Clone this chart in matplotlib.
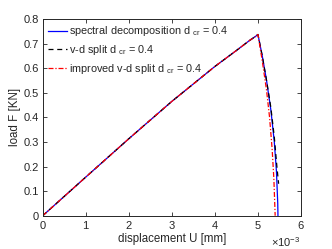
import matplotlib
matplotlib.use("Agg")
import matplotlib.pyplot as plt
from matplotlib.ticker import ScalarFormatter

plt.rcParams['font.family'] = ['Liberation Sans', 'DejaVu Sans']
plt.rcParams['mathtext.fontset'] = 'custom'
plt.rcParams['mathtext.rm'] = 'Liberation Sans'
plt.rcParams['mathtext.it'] = 'Liberation Sans'

# displacement in mm, load in kN
pre_x = [0, 1.0e-3, 2.0e-3, 3.0e-3, 4.0e-3, 4.5e-3, 4.8e-3, 4.95e-3, 5.0e-3]
pre_y = [0, 0.157, 0.313, 0.465, 0.607, 0.672, 0.712, 0.730, 0.737]

spec_x = [5.1e-3, 5.2e-3, 5.3e-3, 5.38e-3, 5.43e-3, 5.46e-3, 5.465e-3]
spec_y = [0.65, 0.55, 0.43, 0.30, 0.18, 0.05, 0.0]

vd_x = [5.1e-3, 5.2e-3, 5.3e-3, 5.38e-3, 5.44e-3, 5.48e-3]
vd_y = [0.65, 0.55, 0.44, 0.32, 0.20, 0.13]

ivd_x = [5.1e-3, 5.2e-3, 5.27e-3, 5.33e-3, 5.37e-3, 5.40e-3]
ivd_y = [0.63, 0.51, 0.40, 0.27, 0.15, 0.0]

labels = ["spectral decomposition d $_{\\mathrm{cr}}$ = 0.4",
          "v-d split d $_{\\mathrm{cr}}$ = 0.4",
          "improved v-d split d $_{\\mathrm{cr}}$ = 0.4"]

fig = plt.figure(figsize=(3.32, 2.49), dpi=100)
ax = fig.add_axes([0.1286, 0.1337, 0.778, 0.79])

ax.plot(pre_x + spec_x, pre_y + spec_y, color='#0000ff', lw=0.9, ls='-', label=labels[0])
ax.plot(pre_x + vd_x, pre_y + vd_y, color='black', lw=0.9, ls=(0, (4, 3)), label=labels[1])
ax.plot(pre_x + ivd_x, pre_y + ivd_y, color='#ff0000', lw=0.9, ls=(0, (4, 1.5, 1, 1.5)), label=labels[2])

ax.set_xlim(0, 6e-3)
ax.set_ylim(0, 0.8)
ax.set_xticks([i * 1e-3 for i in range(7)])
ax.set_yticks([i / 10 for i in range(9)])
ax.set_yticklabels(['0', '0.1', '0.2', '0.3', '0.4', '0.5', '0.6', '0.7', '0.8'])
fmt = ScalarFormatter(useMathText=True)
fmt.set_powerlimits((-2, 2))
ax.xaxis.set_major_formatter(fmt)
ax.xaxis.get_offset_text().set_fontsize(8)
ax.xaxis.get_offset_text().set_color('#262626')

ax.tick_params(direction='in', top=True, right=True, labelsize=8, length=3,
               width=0.6, colors='#262626', pad=2.5)
for s in ax.spines.values():
    s.set_linewidth(0.7)
    s.set_color('#262626')

ax.set_xlabel('displacement U [mm]', fontsize=8.3, color='#262626', labelpad=1)
ax.set_ylabel('load F [KN]', fontsize=8.3, color='#262626', labelpad=2)

leg = ax.legend(loc='upper left', fontsize=7.8, frameon=False, handlelength=1.7,
                handletextpad=0.2, borderaxespad=0.3, borderpad=0.2, labelspacing=0.45)
for t in leg.get_texts():
    t.set_color('#262626')

fig.savefig('out.png', dpi=100)
